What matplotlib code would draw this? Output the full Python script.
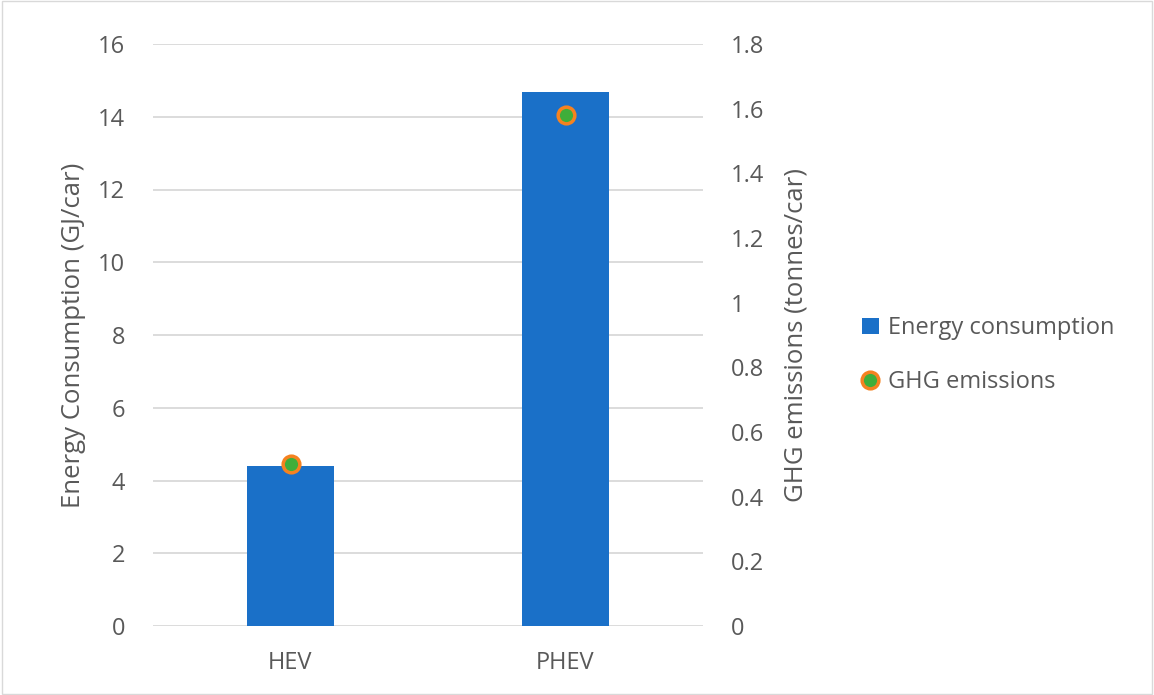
import matplotlib
matplotlib.use("Agg")
import matplotlib.pyplot as plt
from matplotlib.lines import Line2D
from matplotlib.patches import Patch

categories = ["HEV", "PHEV"]
energy = [4.4, 14.68]
ghg = [0.50, 1.58]
left_ticks = [0, 2, 4, 6, 8, 10, 12, 14, 16]
right_ticks = [0, 0.2, 0.4, 0.6, 0.8, 1, 1.2, 1.4, 1.6, 1.8]
right_labels = ["0", "0.2", "0.4", "0.6", "0.8", "1", "1.2", "1.4", "1.6", "1.8"]

plt.rcParams['font.family'] = ['Open Sans', 'DejaVu Sans']
txt = '#595959'
fig = plt.figure(figsize=(11.54, 6.95), dpi=100)
fig.patches.append(plt.Rectangle((0.002, 0.002), 0.996, 0.996, transform=fig.transFigure,
                                 fill=False, edgecolor='#d9d9d9', linewidth=1))
ax = fig.add_axes([153 / 1154, 1 - 626 / 695, 550 / 1154, 582 / 695])
x = [0.5, 1.5]
ax.bar(x, energy, width=0.313, color='#1a70c8', zorder=3)
ax.set_xlim(0, 2)
ax.set_ylim(0, 16)
ax.set_yticks(left_ticks)
ax.set_xticks(x)
ax.set_xticklabels(categories)
ax.grid(axis='y', color='#d9d9d9', linewidth=1.3, zorder=0)
for s in ax.spines.values():
    s.set_visible(False)
ax.tick_params(length=0, labelsize=17, colors=txt, pad=18)
ax.tick_params(axis='y', pad=20)
ax.set_ylabel("Energy Consumption (GJ/car)", fontsize=18.5, color=txt, labelpad=9)

ax2 = ax.twinx()
ax2.set_ylim(0, 1.8)
ax2.set_yticks(right_ticks)
ax2.set_yticklabels(right_labels)
ax2.plot(x, ghg, linestyle='none', marker='o', markersize=12, markerfacecolor='#3fae3a',
         markeredgecolor='#f58220', markeredgewidth=2.5, zorder=5)
for s in ax2.spines.values():
    s.set_visible(False)
ax2.tick_params(length=0, labelsize=17, colors=txt, pad=20)
ax2.set_ylabel("GHG emissions (tonnes/car)", fontsize=18.5, color=txt, labelpad=14)

handles = [Patch(facecolor='#1a70c8', edgecolor='none'),
           Line2D([], [], linestyle='none', marker='o', markersize=12, markerfacecolor='#3fae3a',
                  markeredgecolor='#f58220', markeredgewidth=2.5)]
leg = fig.legend(handles, ["Energy consumption", "GHG emissions"], loc='center left',
                 bbox_to_anchor=(0.747, 0.489), frameon=False, fontsize=17, handlelength=0.7,
                 handletextpad=0.4, labelspacing=1.25, borderpad=0, borderaxespad=0)
for t in leg.get_texts():
    t.set_color(txt)
fig.savefig("out.png", dpi=100)
